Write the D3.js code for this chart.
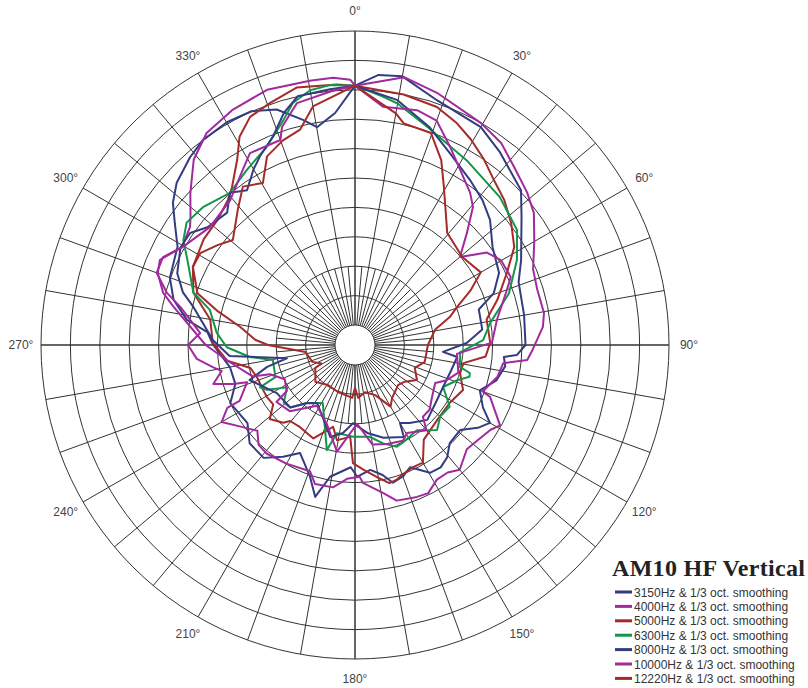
<!DOCTYPE html>
<html><head><meta charset="utf-8">
<script src="https://cdn.jsdelivr.net/npm/d3@7"></script>
<style>body{margin:0;background:#fff}svg{display:block}</style>
</head><body>
<svg id="chart" width="808" height="688"></svg>
<script>
const chartTitle = "AM10 HF Vertical";
const seriesNames = ["3150Hz & 1/3 oct. smoothing","4000Hz & 1/3 oct. smoothing","5000Hz & 1/3 oct. smoothing","6300Hz & 1/3 oct. smoothing","8000Hz & 1/3 oct. smoothing","10000Hz & 1/3 oct. smoothing","12220Hz & 1/3 oct. smoothing"];
const seriesColors = ["#343c80","#a2299e","#a62a2a","#14964a","#343c80","#a2299e","#a62a2a"];

// [angle in degrees, level in dB]
const s3150 = [[0,0.7],[5,2.7],[10,3.0],[18.5,0.5],[30,-0.6],[37,-2.4],[47,-4.8],[52.5,-7.7],[63,-11.7],[69,-13.6],[80,-14.2],[90,-14.4],[93.5,-15.8],[94.6,-18],[98,-17.6],[104,-18.6],[110,-20.8],[116,-19.2],[120,-16.9],[124,-18.2],[129,-20.4],[136,-20.2],[140.6,-18.7],[145,-18],[149.6,-18.2],[155.7,-20.6],[160,-19.6],[164.6,-19.1],[168,-20.8],[173,-22],[179,-21],[182,-22.6],[190.7,-20.6],[194.7,-16.7],[198.8,-19.7],[207,-22.8],[212.7,-20.8],[219,-18.7],[227,-18.9],[234,-20.8],[245,-20],[252,-22],[260,-21.8],[270,-19.3],[275,-18.2],[278.5,-14.5],[284,-11.6],[290,-9.9],[299,-8.9],[303.9,-6.5],[308,-4.1],[312.3,-2.4],[318.7,-0.9],[323.4,0],[330.1,0.3],[336,0.1],[341.6,-1.2],[347,-4.1],[350.1,-5.8],[355.1,-3.8],[360,0.7]];
const s4000 = [[0,0.7],[10.4,2.9],[18,1.7],[29.6,0],[35.9,-1],[41.8,-2.8],[48.5,-4.3],[53.6,-5.6],[60,-8.2],[67,-10.5],[73,-11],[80.4,-10.8],[84.5,-11.3],[91.6,-13.2],[95,-14],[97,-18],[102.7,-18.6],[110,-20.3],[111,-18.8],[119,-15.2],[122,-16.2],[128,-17],[133,-17.4],[140,-15.7],[144,-16.6],[148.7,-16.6],[153.7,-15.3],[157.8,-15.5],[165,-16],[169,-17.7],[176.7,-19.9],[178,-21],[183.4,-20.6],[188.8,-18.9],[196,-18.8],[199.6,-20.6],[210,-20.1],[219,-19.6],[224,-19.8],[228.7,-21.3],[234.8,-19.4],[240,-17.2],[243.8,-19.2],[244.2,-21.6],[251,-24],[252.3,-21.6],[254.6,-18.4],[259,-20.3],[261,-19],[265,-16.4],[270,-15],[274.4,-17],[282.3,-13],[285.5,-10.2],[290,-7.5],[294.6,-7.5],[299.5,-9.6],[305.6,-8.9],[308,-7.9],[312.7,-5.3],[319,-1.6],[325,0.6],[332.6,1.7],[341,2.5],[350.3,2.2],[355.3,2.2],[359,1.7],[360,0.7]];
const s5000 = [[0,0.7],[11,0],[19,-0.6],[24.7,-1.9],[29.5,-3.3],[34.9,-5],[40,-6.7],[45.8,-8],[52,-9.7],[58.4,-11.6],[64.6,-14.8],[72.4,-18],[79,-20.6],[89,-20.4],[95,-21.1],[99.5,-24.7],[105,-24.9],[112.6,-23.5],[121,-24.5],[132,-24.5],[144,-23.5],[150,-20.3],[154.6,-20.4],[159.4,-20],[163,-19.4],[166,-19.2],[170.5,-20.6],[176,-22.1],[181,-23.3],[183,-27.8],[190.7,-26.9],[195,-29],[204,-26],[214,-26.6],[220.5,-26.4],[222.7,-25.4],[229,-24.2],[234,-26.2],[239.4,-26],[244,-26],[251,-25.9],[257.6,-25.2],[263,-21.5],[271,-19.2],[280,-18.4],[288,-14.5],[295.7,-12.8],[305,-12],[312.2,-11.8],[318.8,-10.6],[322,-9.4],[327.5,-6.1],[331,-2.9],[335.3,-0.7],[340.6,0.2],[347.3,1.5],[356,1.0],[360,0.7]];
const s6300 = [[0,0.7],[6.4,-0.9],[10,-1.7],[18.3,-4.3],[31.2,-6.7],[44.4,-8.2],[54.6,-9.6],[62.3,-12.3],[71.5,-15.8],[80.7,-20.1],[87.8,-21.6],[94,-25.5],[96.5,-25.4],[101.8,-25.2],[103.7,-23.3],[105.5,-23.2],[109,-25],[115.5,-26.8],[123,-24.2],[130,-24.5],[136,-23.3],[144,-25.5],[154,-24.9],[157.6,-24.7],[164,-26],[171,-27.6],[181,-27.8],[191.6,-28.1],[195,-24.9],[209,-32.1],[219.6,-30.6],[226,-28.1],[231,-27.8],[238,-29.8],[243,-26.6],[246,-25.7],[248,-28.8],[259.6,-29.2],[263.5,-25.4],[269,-21.6],[275,-19.8],[283.6,-18],[288,-14.5],[297,-11.4],[301.4,-9.2],[306,-8],[312.2,-8.5],[320.6,-9.9],[328.3,-8.4],[336,-6.5],[342.3,-3.3],[345.6,-0.9],[350,0.6],[354.5,1.0],[360,0.7]];
const s8000 = [[0,0.7],[9.7,-1.1],[19,-4.3],[26.3,-7],[34.9,-9.2],[41.4,-10.6],[47.2,-12.1],[54.6,-14.7],[63.4,-16],[69.5,-18.2],[74,-21.5],[77.4,-21.6],[83,-21.6],[89,-24.4],[94.5,-28.4],[96.7,-25.9],[105,-26.5],[115.5,-26.8],[124,-26.6],[136,-25.7],[145,-27.2],[150,-28.1],[152,-25.7],[163,-26.9],[172,-28.3],[181.5,-30.1],[187.8,-28.3],[195,-27.2],[213,-31.6],[219.6,-30.6],[226,-28.1],[238.4,-27.8],[251.6,-24.5],[256,-28],[259,-31.6],[265,-22],[272,-19.2],[283.2,-15.2],[287,-12.8],[292,-10.8],[299.2,-9.4],[304.2,-9.5],[308.6,-11.3],[316,-12.1],[320.6,-9.9],[325.1,-11.3],[330,-8.9],[333.2,-7.5],[338.5,-5.3],[343,-2.1],[347,0],[354.4,0.3],[360,0.7]];
const s10000 = [[0,0.7],[6.7,-2.6],[14.8,-2.1],[20,-2.8],[25.6,-6],[37,-10.9],[40.5,-12.5],[45,-16.5],[50,-20.1],[55,-16],[59.8,-14.7],[66.4,-14.5],[70,-15.9],[80,-18.9],[89,-20.1],[90.5,-22],[95,-26],[105,-25.2],[111,-26.7],[115.4,-28.3],[124,-27.6],[131,-26.6],[136.6,-26.6],[140,-24.5],[149.4,-26],[153.4,-25.2],[162,-25.7],[170,-26.2],[178.5,-30],[189.6,-25],[199.5,-29.1],[212,-31.2],[224.6,-27.6],[234,-26.9],[236,-29.4],[244,-30.1],[251,-28.1],[253,-25.2],[262,-22],[270,-18],[282,-11.8],[285.2,-9.6],[290,-7.7],[293.6,-7.2],[299.7,-9.7],[309.1,-11.6],[319.2,-10.9],[327.4,-8],[331.3,-6.2],[340,-6.3],[341.5,-4.3],[346.5,-1.1],[355,0],[360,0.7]];
const s12220 = [[0,0.7],[10,-3.4],[12.4,-4.8],[19.7,-5.1],[25,-8.7],[29.4,-12.6],[34.6,-16.2],[39.4,-18.7],[50.6,-19.8],[60,-18.7],[64.6,-21.6],[69.6,-24.9],[73.6,-26.6],[79,-29.5],[90,-31],[103.6,-31.2],[111,-32.5],[119.5,-31.3],[126.5,-32.9],[133,-33.4],[145,-32.4],[150,-31.3],[158,-34.2],[168,-35.2],[176.5,-34.4],[180,-36.1],[183,-34.4],[200,-34.9],[214,-35.2],[227,-34.2],[240,-35.6],[241,-36.9],[248.4,-35.6],[262,-34.9],[270,-28.6],[273,-26.4],[279,-23.6],[284,-19.2],[288.2,-15.2],[295.7,-12.8],[300.7,-12.8],[306,-14.5],[310.7,-16],[319,-13],[324.7,-10.4],[330.4,-11.7],[335,-8],[340.6,-6.5],[345.7,-5.6],[350,-2.2],[360,0.7]];

const seriesData = [s3150, s4000, s5000, s6300, s8000, s10000, s12220];
const ringValues = [-40,-35,-30,-25,-20,-15,-10,-5,0,5,10];
const angleTickValues = [0,30,60,90,120,150,180,210,240,270,300,330];
const angleTickLabels = ["0°","30°","60°","90°","120°","150°","180°","210°","240°","270°","300°","330°"];

const svg = d3.select("#chart");
const cx = 355, cy = 345;
const r = d3.scaleLinear().domain([-40, 10]).range([20, 314]);
const ang = d3.scaleLinear().domain([0, 360]).range([0, 2 * Math.PI]);
const g = svg.append("g").attr("transform", `translate(${cx},${cy})`);

const grid = g.append("g").attr("fill", "none").attr("stroke", "#333").attr("stroke-width", 1);
grid.selectAll("circle").data(ringValues).join("circle").attr("r", d => r(d));
// main spokes every 10 degrees
grid.selectAll("line.major").data(d3.range(0, 360, 10)).join("line").attr("class","major")
  .attr("x1", d => r(-40) * Math.sin(ang(d))).attr("y1", d => -r(-40) * Math.cos(ang(d)))
  .attr("x2", d => r(10) * Math.sin(ang(d))).attr("y2", d => -r(10) * Math.cos(ang(d)))
  .attr("stroke-width", d => d % 90 === 0 ? 1.5 : 1);
// minor spokes in the inner rings
grid.selectAll("line.minor").data(d3.range(5, 360, 10)).join("line").attr("class","minor")
  .attr("x1", d => r(-40) * Math.sin(ang(d))).attr("y1", d => -r(-40) * Math.cos(ang(d)))
  .attr("x2", d => r(-30) * Math.sin(ang(d))).attr("y2", d => -r(-30) * Math.cos(ang(d)));

g.append("g").selectAll("text").data(angleTickValues).join("text")
  .attr("x", d => 334 * Math.sin(ang(d))).attr("y", d => -334 * Math.cos(ang(d)))
  .attr("text-anchor", "middle").attr("dominant-baseline", "central")
  .attr("font-family", "Liberation Sans, Arial, sans-serif").attr("font-size", 12).attr("fill", "#444")
  .text((d, i) => angleTickLabels[i]);

const line = d3.lineRadial().angle(d => ang(d[0])).radius(d => r(d[1]));
g.append("g").selectAll("path").data(seriesData).join("path")
  .attr("d", d => line(d)).attr("fill", "none")
  .attr("stroke", (d, i) => seriesColors[i]).attr("stroke-width", 2).attr("stroke-linejoin", "round");

// title and legend
svg.append("text").attr("x", 612).attr("y", 576)
  .attr("font-family", "Liberation Serif, Times New Roman, serif").attr("font-weight", "bold")
  .attr("font-size", 24).attr("letter-spacing", 0.3).attr("fill", "#222").text(chartTitle);
const leg = svg.append("g").selectAll("g").data(seriesNames).join("g")
  .attr("transform", (d, i) => `translate(0,${592 + i * 14.4})`);
leg.append("line").attr("x1", 615).attr("x2", 632).attr("y1", 0).attr("y2", 0)
  .attr("stroke", (d, i) => seriesColors[i]).attr("stroke-width", 3);
leg.append("text").attr("x", 634).attr("y", 4.5)
  .attr("font-family", "Liberation Sans, Arial, sans-serif").attr("font-size", 12).attr("fill", "#333")
  .text(d => d);
</script>
</body></html>
